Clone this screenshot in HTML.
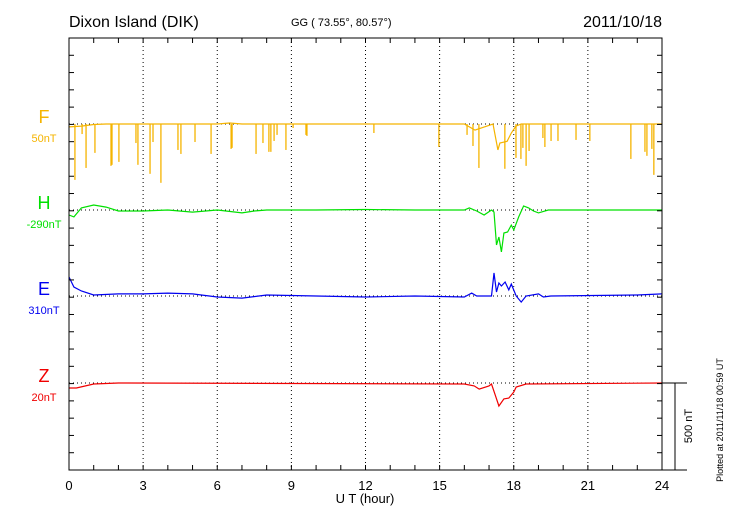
<!DOCTYPE html>
<html><head><meta charset="utf-8"><style>
body{margin:0;background:#fff;}
svg{display:block;font-family:"Liberation Sans",sans-serif;}
</style></head><body>
<svg id="chart" width="730" height="520" viewBox="0 0 730 520" xmlns="http://www.w3.org/2000/svg">
<text x="69" y="27" font-size="16">Dixon Island (DIK)</text>
<text x="291" y="26" font-size="11">GG ( 73.55°,  80.57°)</text>
<text x="662" y="27" font-size="16" text-anchor="end">2011/10/18</text>
<g id="grid"></g>
<g id="series"></g>
<g id="axes"></g>
<text x="365" y="503" font-size="13" text-anchor="middle">U T (hour)</text>
<text transform="translate(692,426) rotate(-90)" font-size="11" text-anchor="middle">500 nT</text>
<text transform="translate(723,420) rotate(-90)" font-size="9" text-anchor="middle">Plotted at 2011/11/18 00:59 UT</text>
</svg>
<script>
const xTicks=[0,3,6,9,12,15,18,21,24];
const fSpikeHours=[0.24,0.53,0.69,1.05,1.70,1.74,2.02,2.71,2.79,3.28,3.40,3.72,4.41,4.53,5.10,5.75,6.56,6.60,7.57,7.85,8.09,8.17,8.30,8.42,8.78,9.07,9.59,9.63,12.34,14.97,16.11,16.35,16.59,17.64,18.09,18.29,18.37,18.50,18.62,19.18,19.26,19.51,19.79,20.52,21.08,22.74,23.31,23.39,23.59,23.67];
const fSpikeDepths=[323,58,254,167,242,236,219,110,236,288,104,340,150,173,104,173,144,138,173,110,161,161,98,63,150,23,63,69,52,133,63,127,254,259,196,202,138,242,156,81,133,98,98,92,98,202,161,184,144,294];
const fHours=[0,0.5,1,1.5,6,6.5,7,16,16.43,17.16,17.36,17.44,17.73,17.9,18.09,18.3,24];
const fValues=[-17,-12,-3,0,0,6,0,0,-35,0,-150,-110,-100,-52,-12,0,0];
const hHours=[0,0.2,0.5,1,1.5,2,3,4,5,6,7,7.5,8,10,12,14,16,16.2,16.5,16.8,17.1,17.2,17.3,17.4,17.5,17.6,17.75,17.9,18.0,18.2,18.4,18.6,18.8,19.0,19.4,24];
const hValues=[-29,-40,12,29,17,-6,-6,0,-12,0,-17,-6,0,0,3,0,0,12,-6,-29,0,-12,-202,-156,-242,-133,-127,-87,-115,-40,23,12,-6,-17,0,0];
const eHours=[0,0.2,0.5,1,2,3,4,5,6,7,8,10,12,14,16,16.3,16.5,17.1,17.2,17.3,17.4,17.5,17.65,17.8,17.9,18.1,18.3,18.5,19,19.2,19.5,23,24];
const eValues=[110,52,29,6,12,12,17,12,-6,-12,6,0,-6,0,-6,17,0,0,133,23,75,58,81,35,69,0,-35,0,12,-6,0,6,12];
const zHours=[0,0.3,1,2,16,16.4,16.6,17,17.1,17.25,17.4,17.6,17.8,18,18.1,18.5,24];
const zValues=[-29,-29,-6,0,-6,-17,-35,-17,-6,-69,-133,-92,-87,-52,-23,-6,0];
const NS="http://www.w3.org/2000/svg";
const L=69,R=662,T=38,B=470;
const pxPerNT=86.5/500;
const xS=h=>L+h*(R-L)/24;
const yS=(base,v)=>base-v*pxPerNT;
function mk(tag,attrs,parent){const e=document.createElementNS(NS,tag);for(const k in attrs)e.setAttribute(k,attrs[k]);parent.appendChild(e);return e;}
const grid=document.getElementById('grid'),ser=document.getElementById('series'),ax=document.getElementById('axes');
xTicks.slice(1,-1).forEach(h=>{const l=mk('line',{x1:xS(h),x2:xS(h),y1:T,y2:B,stroke:'#000','stroke-width':1,'stroke-dasharray':'1,3'},grid);

});
const comps=[
 {n:'f',base:124,col:'#f5b400',lab:'F',off:'50nT',hs:fHours,vs:fValues},
 {n:'h',base:210,col:'#00e000',lab:'H',off:'-290nT',hs:hHours,vs:hValues},
 {n:'e',base:296,col:'#0000f0',lab:'E',off:'310nT',hs:eHours,vs:eValues},
 {n:'z',base:383,col:'#f00000',lab:'Z',off:'20nT',hs:zHours,vs:zValues}];
comps.forEach(c=>{
 const bl=mk('line',{x1:L,x2:R,y1:c.base,y2:c.base,stroke:'#000','stroke-dasharray':'1,3'},grid);
 
 
 const t=mk('text',{x:44,y:c.base-1,'font-size':18,fill:c.col,'text-anchor':'middle'},ax);t.textContent=c.lab;
 
 
 const o=mk('text',{x:44,y:c.base+18,'font-size':11,fill:c.col,'text-anchor':'middle'},ax);o.textContent=c.off;
 
 
 const pts=c.hs.map((h,i)=>xS(h).toFixed(1)+','+yS(c.base,c.vs[i]).toFixed(1)).join(' ');
 const pl=mk('polyline',{points:pts,fill:'none',stroke:c.col,'stroke-width':1.2},ser);
 
 
});
fSpikeHours.forEach((h,i)=>{const s=mk('line',{x1:xS(h),x2:xS(h),y1:124,y2:yS(124,-fSpikeDepths[i]),stroke:'#f5b400','stroke-width':1.3},ser);
 
 });
const fr=mk('rect',{x:L,y:T,width:R-L,height:B-T,fill:'none',stroke:'#000','stroke-width':1},ax);


for(let h=1;h<24;h++){mk('line',{x1:xS(h),x2:xS(h),y1:T,y2:T+5,stroke:'#000'},ax);mk('line',{x1:xS(h),x2:xS(h),y1:B,y2:B-5,stroke:'#000'},ax);}
for(let k=1;k<25;k++){const y=T+k*(B-T)/25;mk('line',{x1:L,x2:L+5,y1:y,y2:y,stroke:'#000'},ax);mk('line',{x1:R,x2:R-5,y1:y,y2:y,stroke:'#000'},ax);}
xTicks.forEach(h=>{const t=mk('text',{x:xS(h),y:490,'font-size':13,'text-anchor':'middle'},ax);t.textContent=h;
 
 });
const sb=mk('path',{d:`M${R} 383 H687 M${R} ${B} H687 M675 383 V${B}`,stroke:'#000',fill:'none'},ax);


</script>
</body></html>
